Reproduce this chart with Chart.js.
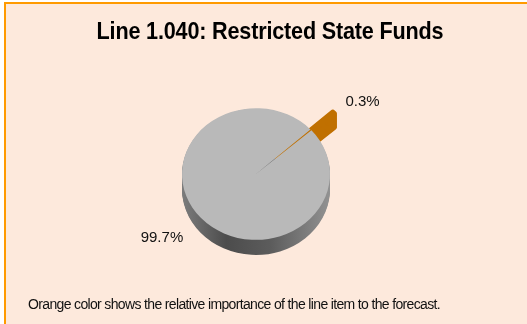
<!DOCTYPE html>
<html>
<head>
<meta charset="utf-8">
<script src="https://cdn.jsdelivr.net/npm/chart.js@4.4.1/dist/chart.umd.min.js"></script>
<style>
  html, body { margin: 0; padding: 0; background: #fde9dc; overflow: hidden; width: 527px; height: 324px; }
  .edge { position: absolute; background: #ff9a00; }
  #edge-top { left: 4px; top: 2px; width: 523px; height: 2px; }
  #edge-left { left: 4px; top: 2px; width: 2px; height: 322px; }
  #blank-top { position: absolute; left: 0; top: 0; width: 527px; height: 2px; background: #ffffff; }
  #blank-left { position: absolute; left: 0; top: 0; width: 4px; height: 324px; background: #ffffff; }
  #wrap { position: absolute; left: 0; top: 0; width: 527px; height: 324px; }
  .caption { position: absolute; white-space: nowrap; font-family: "Liberation Sans", Arial, sans-serif; }
  #title {
    left: 0; width: 540px; top: 17px; text-align: center;
    font-size: 24px; font-weight: bold; letter-spacing: -0.2px; color: #000; line-height: 28px;
    transform: scaleX(0.9); transform-origin: 270px 0;
  }
  #note { left: 28px; top: 296px; font-size: 14px; letter-spacing: -0.65px; color: #111; line-height: 17px; }
</style>
</head>
<body>
<div id="blank-top"></div>
<div id="blank-left"></div>
<div id="edge-top" class="edge"></div>
<div id="edge-left" class="edge"></div>
<div id="wrap"><canvas id="pie"></canvas></div>
<div id="title" class="caption"></div>
<div id="note" class="caption"></div>
<script>
// ─── Data ────────────────────────────────────────
const sliceLabels = ['Rest of forecast', 'Line 1.040'];
const sliceShares = [99.7, 0.3];
const sliceText = ['99.7%', '0.3%'];

const TITLE = 'Line 1.040: Restricted State Funds';
const NOTE = 'Orange color shows the relative importance of the line item to the forecast.';

const TOP_COLORS = ['#b9b9b9', '#d08a3a'];
const TILT = 0.89;   // squash the pie vertically so it reads as a tilted disc
const DEPTH = 17;    // thickness of the disc, before the squash

document.getElementById('title').textContent = TITLE;
document.getElementById('note').textContent = NOTE;

// ─── 3D disc: side walls under the arcs, tilt, labels ──
const discPlugin = {
  id: 'disc',
  beforeDatasetsDraw(chart) {
    const ctx = chart.ctx;
    const arcs = chart.getDatasetMeta(0).data;
    const x = arcs[0].x, y = arcs[0].y;
    ctx.save();
    ctx.translate(x, y);
    ctx.scale(1, TILT);
    ctx.translate(-x, -y);

    arcs.forEach((arc, i) => {
      const { startAngle, endAngle, outerRadius } = arc.getProps(['startAngle', 'endAngle', 'outerRadius']);
      const off = arc.options.offset || 0;
      const mid = (startAngle + endAngle) / 2;
      const cx = x + Math.cos(mid) * off;
      const cy = y + Math.sin(mid) * off;

      if (i === 0) {
        const g = ctx.createLinearGradient(cx - outerRadius, 0, cx + outerRadius, 0);
        g.addColorStop(0, '#7c7c7c');
        g.addColorStop(0.3, '#4c4c4c');
        g.addColorStop(0.6, '#5c5c5c');
        g.addColorStop(1, '#929292');
        ctx.fillStyle = g;
      } else {
        ctx.fillStyle = '#c07000';
        ctx.strokeStyle = '#c07000';
        ctx.lineWidth = 6;
        ctx.lineJoin = 'round';
      }
      for (let d = DEPTH; d > 0; d--) {
        ctx.beginPath();
        ctx.moveTo(cx, cy + d);
        ctx.arc(cx, cy + d, outerRadius, startAngle, endAngle);
        ctx.closePath();
        ctx.fill();
        if (i === 1) ctx.stroke();   // the sliver is too thin to show on its own
      }
    });
  },
  afterDatasetsDraw(chart) {
    const ctx = chart.ctx;
    ctx.restore();

    const arcs = chart.getDatasetMeta(0).data;
    ctx.save();
    ctx.font = '15px "Liberation Sans", Arial, sans-serif';
    ctx.fillStyle = '#111111';
    ctx.textBaseline = 'middle';
    arcs.forEach((arc, i) => {
      const { x, y, startAngle, endAngle, outerRadius } = arc.getProps(['x', 'y', 'startAngle', 'endAngle', 'outerRadius']);
      const off = arc.options.offset || 0;
      const mid = (startAngle + endAngle) / 2;
      const r = outerRadius + off * 0.75 + 24;
      const dx = Math.cos(mid), dy = Math.sin(mid);
      const lx = x + dx * r;
      const ly = y + dy * r * TILT + Math.max(0, dy) * DEPTH * TILT * 0.5;
      ctx.textAlign = dx >= 0 ? 'left' : 'right';
      ctx.fillText(sliceText[i], lx, ly);
    });
    ctx.restore();
  }
};

const chart = new Chart(document.getElementById('pie'), {
  type: 'pie',
  data: {
    labels: sliceLabels,
    datasets: [{
      data: sliceShares,
      backgroundColor: TOP_COLORS,
      borderWidth: 0,
      offset: [0, 30],
      hoverOffset: 0,
      clip: false,
    }],
  },
  options: {
    responsive: true,
    maintainAspectRatio: false,
    animation: false,
    radius: 74,
    rotation: 48.5,
    layout: { padding: { left: 28, right: 43, top: 60.8, bottom: 36.8 } },
    plugins: {
      legend: { display: false },
      tooltip: { enabled: false },
    },
  },
  plugins: [discPlugin],
});
</script>
</body>
</html>
